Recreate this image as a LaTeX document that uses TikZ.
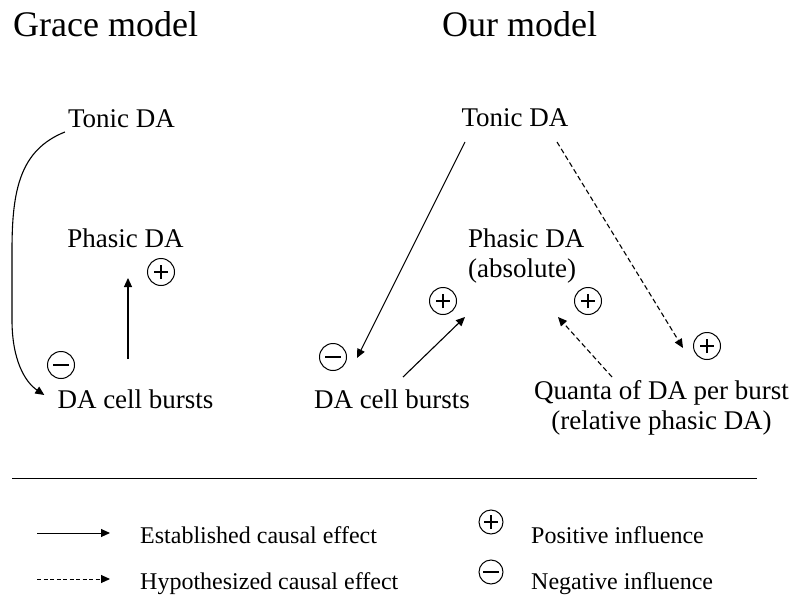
\documentclass[tikz,border=0pt]{standalone}
\usepackage{fontspec}
\setmainfont{Liberation Serif}
\usetikzlibrary{arrows.meta,positioning}

\begin{document}
\begin{tikzpicture}[x=1pt, y=-1pt,
  every node/.style={inner sep=0pt},
  txt/.style={font=\fontsize{27}{30}\selectfont},
  ttl/.style={font=\fontsize{36}{40}\selectfont, anchor=base west},
  lgd/.style={font=\fontsize{24}{28}\selectfont, anchor=base west},
  sign/.style={draw, circle, line width=1pt, minimum size=#1},
  sign/.default=27pt,
  plus/.style={sign=#1, path picture={
    \draw[line width=2.4pt] ([xshift=-7pt]path picture bounding box.center) -- ++(14pt,0pt);
    \draw[line width=2.4pt] ([yshift=-7pt]path picture bounding box.center) -- ++(0pt,14pt);}},
  plus/.default=27pt,
  minus/.style={sign=#1, path picture={
    \draw[line width=2.6pt] ([xshift=-8pt]path picture bounding box.center) -- ++(16pt,0pt);}},
  minus/.default=27pt,
  est/.style={-{Triangle[length=9pt,width=8pt]}, line width=1.1pt},
  hyp/.style={est, dash pattern=on 5pt off 3pt}]
\useasboundingbox (0,0) rectangle (800,607);

% Titles
\node[ttl] (gtitle) at (13,37) {Grace model};
\node[ttl] (otitle) at (442,37) {Our model};

% Grace model
\node[txt, anchor=base] (ltonic) at (121.5,128) {Tonic DA};
\node[txt, anchor=base] (lphasic) at (125.5,247) {Phasic DA};
\node[txt, anchor=base] (lcell) at (135.5,408) {DA cell bursts};
\node[plus] (lplus) at (161,272) {};
\node[minus] (lminus) at (61,365) {};

\draw[est] ([xshift=-3pt,yshift=-4pt]ltonic.base west)
  .. controls (20,150) and (12,190) .. (12,250) -- (12,320)
  .. controls (12,360) and (25,382) .. ([xshift=-13pt,yshift=13pt]lcell.base west);
\draw[est] ([xshift=-7.5pt,yshift=49pt]lcell.base) -- ([xshift=2.5pt,yshift=-31pt]lphasic.base);

% Our model
\node[txt, anchor=base] (rtonic) at (515,127) {Tonic DA};
\node[txt, anchor=north west, align=left] (rphasic) at (468,229) {Phasic DA\\(absolute)};
\node[txt, anchor=base] (rcell) at (392,408) {DA cell bursts};
\node[txt, anchor=north, align=center] (quanta) at (661.5,380) {Quanta of DA per burst\\(relative phasic DA)};
\node[minus] (rminus) at (333,357) {};
\node[plus] (rplusa) at (443,301) {};
\node[plus] (rplusb) at (588,301) {};
\node[plus] (rplusc) at (707,346) {};

\draw[est] ([xshift=-50pt,yshift=-15pt]rtonic.base) -- ([xshift=-35pt,yshift=50pt]rcell.base);
\draw[hyp] ([xshift=42pt,yshift=-15pt]rtonic.base) -- ([xshift=21.5pt,yshift=32pt]quanta.north);
\draw[est] ([xshift=11pt,yshift=31pt]rcell.base) -- ([xshift=-3pt,yshift=-88pt]rphasic.north west);
\draw[hyp] ([xshift=-49.5pt,yshift=3pt]quanta.north) -- ([xshift=90pt,yshift=-88pt]rphasic.north west);

% Separator
\draw[line width=1pt] (12,478) -- (757,478);

% Legend
\coordinate (esta) at (37,533);
\coordinate (estb) at (110,533);
\coordinate (hypa) at (37,579);
\coordinate (hypb) at (110,579);
\draw[est, line width=1pt] (esta) -- (estb);
\draw[hyp, line width=1pt, dash pattern=on 4pt off 2.5pt] (hypa) -- (hypb);
\node[lgd] (estlabel) at (140,543) {Established causal effect};
\node[lgd] (hyplabel) at (140,589) {Hypothesized causal effect};
\node[plus=24pt] (pluskey) at (491,522) {};
\node[minus=24pt] (minuskey) at (491,572) {};
\node[lgd] (poslabel) at (531,543) {Positive influence};
\node[lgd] (neglabel) at (531,589) {Negative influence};
\end{tikzpicture}
\end{document}
